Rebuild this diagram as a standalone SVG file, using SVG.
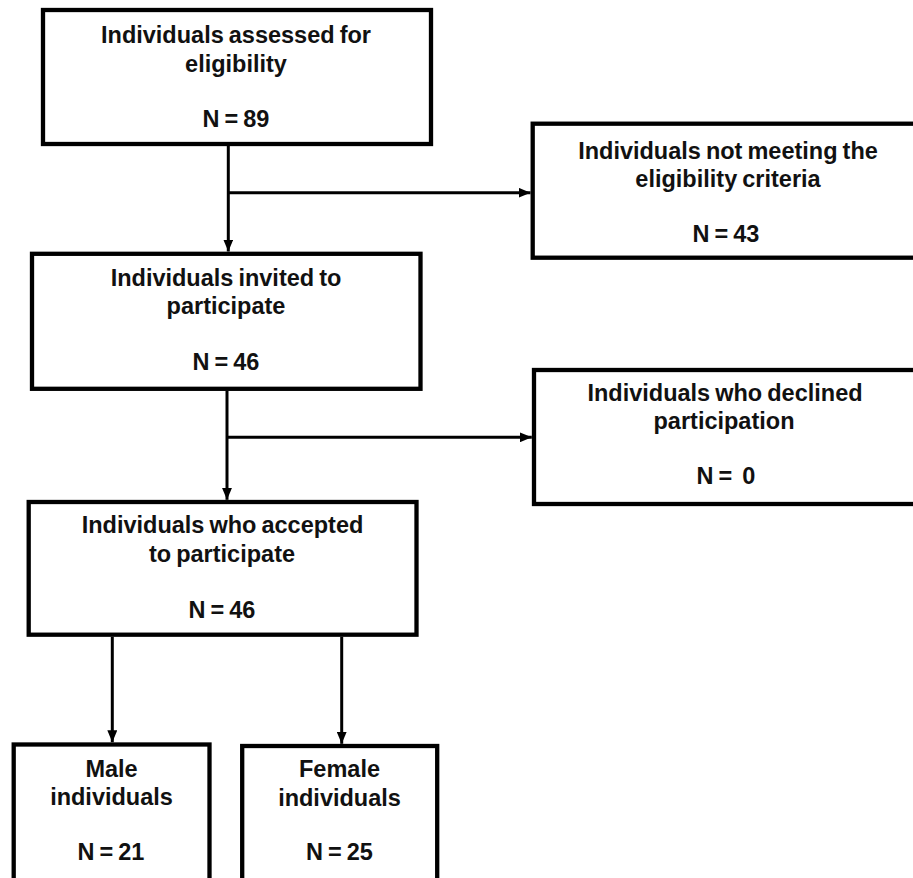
<svg xmlns="http://www.w3.org/2000/svg" width="913" height="878" viewBox="0 0 913 878">
<defs>
<style>
.box{fill:#fff;stroke:#000;stroke-width:4.3}
.t{font-family:"Liberation Sans",Arial,sans-serif;font-weight:bold;font-size:23.5px;fill:#111;text-anchor:middle;word-spacing:-1.5px;white-space:pre}
.c{fill:none;stroke:#000;stroke-width:3}
</style>
<marker id="ah" markerUnits="userSpaceOnUse" markerWidth="12" markerHeight="10" refX="12" refY="5" orient="auto">
<path d="M0,0 L12,5 L0,10 z" fill="#000"/>
</marker>
</defs>
<rect width="913" height="878" fill="#fff"/>
<g id="connectors">
<path class="c" d="M228.3,145.7 V251.5" marker-end="url(#ah)"/>
<path class="c" d="M228.3,192.7 H530.5" marker-end="url(#ah)"/>
<path class="c" d="M227,390.8 V499.8" marker-end="url(#ah)"/>
<path class="c" d="M227,437.3 H531.8" marker-end="url(#ah)"/>
<path class="c" d="M112.3,636.8 V742.3" marker-end="url(#ah)"/>
<path class="c" d="M341.7,636.8 V743.8" marker-end="url(#ah)"/>
</g>
<g id="assessed">
<rect class="box" x="43" y="10" width="388" height="134"/>
<text class="t" x="236" y="43.3">Individuals assessed for</text>
<text class="t" x="236" y="71.5">eligibility</text>
<text class="t" x="236" y="127">N = 89</text>
</g>
<g id="not-eligible">
<rect class="box" x="532.7" y="123.7" width="390" height="134"/>
<text class="t" x="728" y="159">Individuals not meeting the</text>
<text class="t" x="728" y="187">eligibility criteria</text>
<text class="t" x="726" y="242">N = 43</text>
</g>
<g id="invited">
<rect class="box" x="32" y="253.8" width="388.5" height="135"/>
<text class="t" x="226" y="285.7">Individuals invited to</text>
<text class="t" x="226" y="314">participate</text>
<text class="t" x="226" y="370">N = 46</text>
</g>
<g id="declined">
<rect class="box" x="534" y="370" width="390" height="134"/>
<text class="t" x="725" y="400.7">Individuals who declined</text>
<text class="t" x="724" y="428.7">participation</text>
<text class="t" x="726" y="484">N =  0</text>
</g>
<g id="accepted">
<rect class="box" x="28.7" y="502" width="387.8" height="132.7"/>
<text class="t" x="222.5" y="533.3">Individuals who accepted</text>
<text class="t" x="222" y="561.7">to participate</text>
<text class="t" x="222" y="617.7">N = 46</text>
</g>
<g id="male">
<rect class="box" x="13.7" y="744.5" width="195.8" height="200"/>
<text class="t" x="111.5" y="776.7">Male</text>
<text class="t" x="111.5" y="805">individuals</text>
<text class="t" x="111" y="860">N = 21</text>
</g>
<g id="female">
<rect class="box" x="242.2" y="746" width="195" height="200"/>
<text class="t" x="339.5" y="777.3">Female</text>
<text class="t" x="339.5" y="806">individuals</text>
<text class="t" x="339.5" y="860">N = 25</text>
</g>
</svg>
